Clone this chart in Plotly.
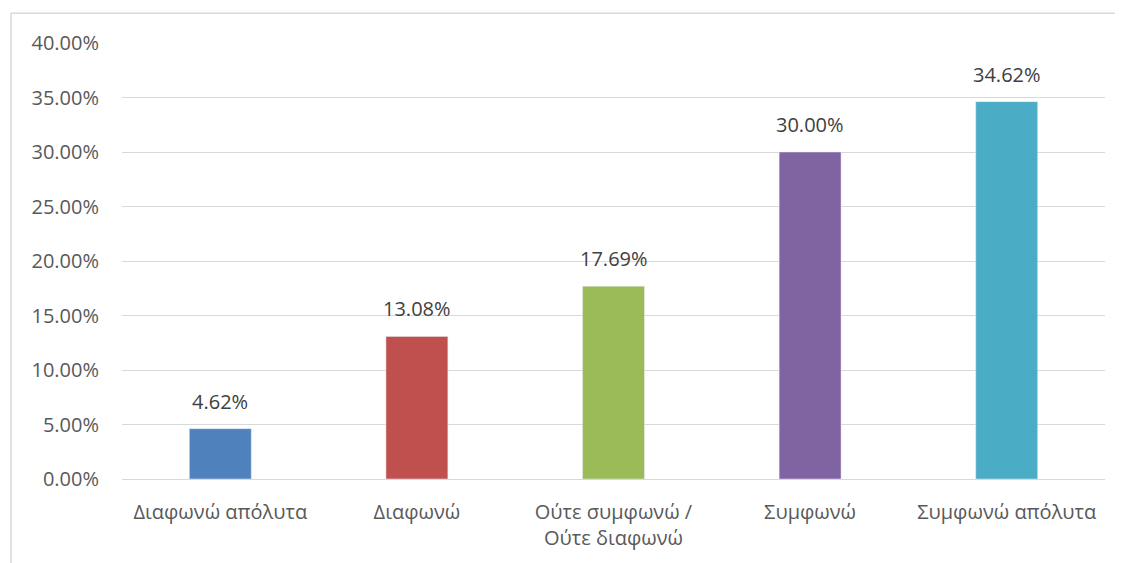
import plotly.graph_objects as go

categories = ["Διαφωνώ απόλυτα", "Διαφωνώ", "Ούτε συμφωνώ /<br>Ούτε διαφωνώ", "Συμφωνώ", "Συμφωνώ απόλυτα"]
values = [0.0462, 0.1308, 0.1769, 0.3000, 0.3462]
colors = ["#4F81BD", "#C0504D", "#9BBB59", "#8064A2", "#4BACC6"]
tick_vals = [0, 0.05, 0.10, 0.15, 0.20, 0.25, 0.30, 0.35, 0.40]

W, H = 1115, 555
L, R, T, B = 114, 18, 35, 82
pw, ph = W - L - R, H - T - B
bx, by = 3, 5  # chart border position (figure pixels)
FS = 20

fig = go.Figure(go.Bar(x=categories, y=values, marker_color=colors))
yb = 1 + (T - by) / ph
xb = (bx - L) / pw
fig.update_layout(
    width=W, height=H, margin=dict(l=L, r=R, t=T, b=B),
    paper_bgcolor="white", plot_bgcolor="white",
    font=dict(family="Open Sans, sans-serif", size=FS, color="#595959"),
    bargap=0.685, showlegend=False,
    shapes=[
        dict(type="line", xref="paper", yref="paper",
             x0=xb, x1=xb, y0=yb, y1=-B / ph - 0.05,
             line=dict(color="#d9d9d9", width=1.5)),
        dict(type="line", xref="paper", yref="paper",
             x0=xb, x1=1 + R / pw + 0.05, y0=yb, y1=yb,
             line=dict(color="#d9d9d9", width=1.5)),
    ],
    annotations=[
        dict(x=c, y=v, xref="x", yref="y", text=f"{v*100:.2f}%", showarrow=False,
             yanchor="bottom", yshift=12, font=dict(size=FS, color="#404040"))
        for c, v in zip(categories, values)
    ],
)
fig.update_yaxes(range=[0, 0.40], tickvals=tick_vals, tickformat=".2%",
                 showgrid=True, gridcolor="#d9d9d9", gridwidth=1, zeroline=False,
                 showline=False, ticks="", ticklabelstandoff=22)
fig.update_xaxes(showline=True, linecolor="#d9d9d9", linewidth=1, ticks="",
                 ticklabelstandoff=15, tickfont=dict(size=FS, color="#595959"))
fig.write_html("out.html")
